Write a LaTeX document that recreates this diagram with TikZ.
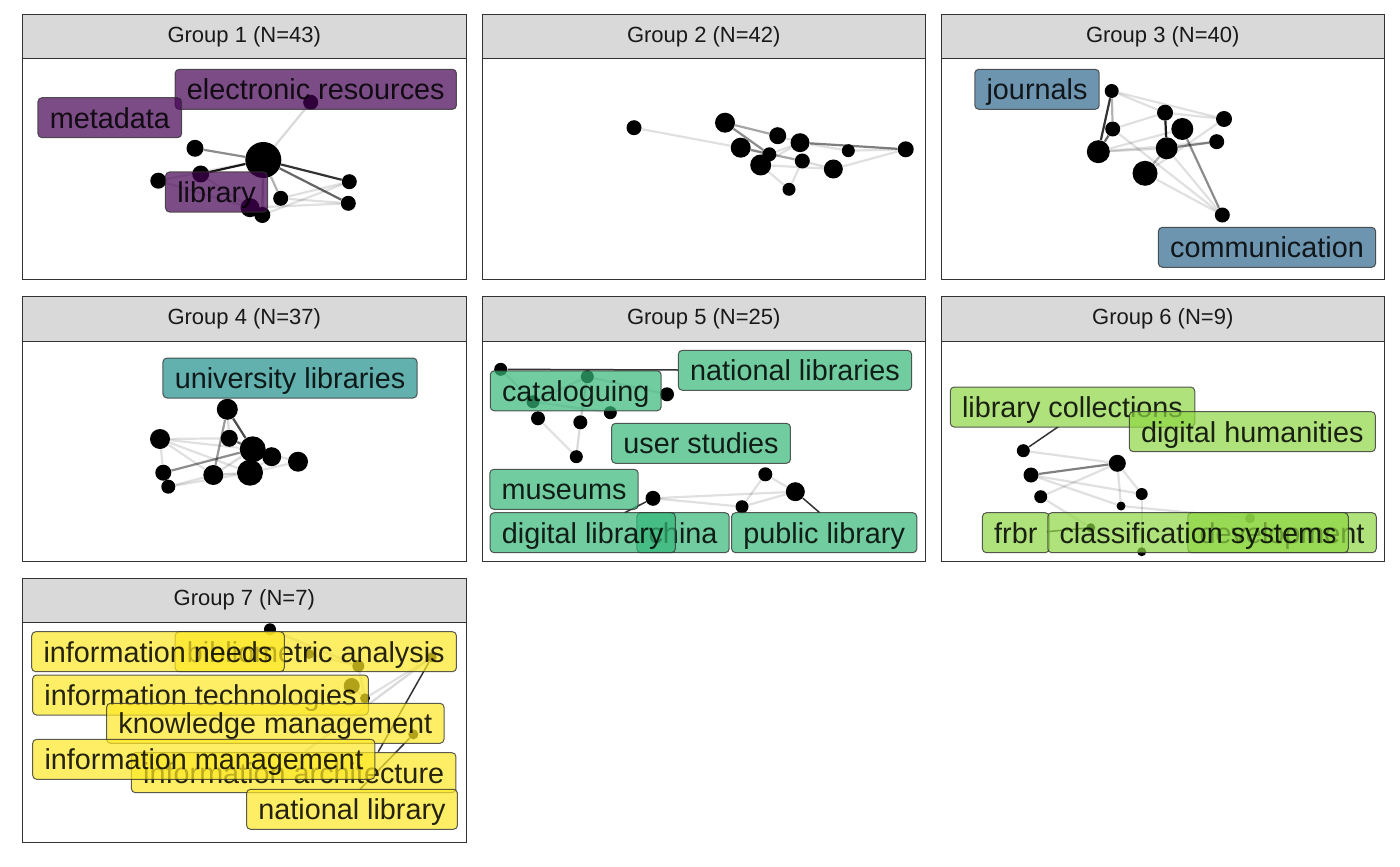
\documentclass[tikz,border=0pt]{standalone}
\usepackage{fontspec}
\setmainfont{Liberation Sans}
\definecolor{gone}{HTML}{440154}
\definecolor{gthree}{HTML}{31688E}
\definecolor{gfour}{HTML}{21908C}
\definecolor{gfive}{HTML}{35B779}
\definecolor{gsix}{HTML}{8FD744}
\definecolor{gseven}{HTML}{FDE725}
\definecolor{stripgray}{HTML}{D9D9D9}
\definecolor{framegray}{HTML}{333333}
\newcommand{\labfont}{\fontsize{14.4pt}{17pt}\selectfont}
\newcommand{\stripfont}{\fontsize{11pt}{13pt}\selectfont}
\newcommand{\facet}[4]{%
  \draw[frame,fill=stripgray] (#1,#2) rectangle ++(443.5,44.5);
  \node[font=\stripfont,text=black!90] (#3) at (#1+221.75,#2+22.25) {#4};
  \draw[frame,fill=white] (#1,#2+44.5) rectangle ++(443.5,220);
}

\begin{document}
\begin{tikzpicture}[
    x=0.5pt,y=-0.5pt,
    frame/.style={draw=framegray,line width=0.5pt},
    kw/.style={circle,fill=black,inner sep=0pt,minimum size=#1},
    lnk/.style={line width=1.1pt,draw=black,draw opacity=#1},
    seg/.style={line width=0.75pt,draw=black!80},
    lab/.style={rounded corners=2pt,draw=black!80,line width=0.5pt,fill=#1,
      fill opacity=0.7,draw opacity=0.8,text opacity=0.85,text=black,font=\labfont,
      inner xsep=5.9pt,inner ysep=0pt,minimum height=20pt,text height=13.6pt,text depth=3pt}
  ]
  \useasboundingbox (0,0) rectangle (1400,866);

  \facet{22.5}{14.5}{s1}{Group 1 (N=43)}
  \facet{482}{14.5}{s2}{Group 2 (N=42)}
  \facet{941}{14.5}{s3}{Group 3 (N=40)}
  \facet{22.5}{296.5}{s4}{Group 4 (N=37)}
  \facet{482}{296.5}{s5}{Group 5 (N=25)}
  \facet{941}{296.5}{s6}{Group 6 (N=9)}
  \facet{22.5}{578}{s7}{Group 7 (N=7)}

  % group 1
  \node[kw=18pt] (g1c) at (263.3,160) {};
  \node[kw=7.5pt] (g1a) at (310.7,102.3) {};
  \node[kw=8.5pt] (g1b) at (195,148.3) {};
  \node[kw=8.5pt] (g1d) at (200.7,174) {};
  \node[kw=8pt] (g1e) at (158.3,180.7) {};
  \node[kw=9.5pt] (g1f) at (250,207.7) {};
  \node[kw=8pt] (g1g) at (262.3,215) {};
  \node[kw=7.5pt] (g1h) at (280.7,198.3) {};
  \node[kw=7.5pt] (g1i) at (349.3,181.7) {};
  \node[kw=7.5pt] (g1j) at (348.3,203.3) {};
  \draw[lnk=.15] (g1c) -- (g1a);
  \draw[lnk=.45] (g1c) -- (g1b);
  \draw[lnk=.9] (g1c) -- (g1d);
  \draw[lnk=.8] (g1c) -- (g1i);
  \draw[lnk=.6] (g1c) -- (g1j);
  \draw[lnk=.3] (g1c) -- (g1h);
  \draw[lnk=.25] (g1c) -- (g1g);
  \draw[lnk=.12] (g1e) -- (g1c);
  \draw[lnk=.12] (g1e) -- (g1f);
  \draw[lnk=.12] (g1d) -- (g1f);
  \draw[lnk=.12] (g1h) -- (g1i);
  \draw[lnk=.12] (g1g) -- (g1i);
  \draw[lnk=.12] (g1f) -- (g1j);
  \draw[lnk=.12] (g1h) -- (g1j);
  \node[lab=gone] (eres) at (315.8,89.3) {electronic resources};
  \node[lab=gone] (meta) at (109.8,117.7) {metadata};
  \node[lab=gone] (lib) at (216.5,192) {library};

  % group 2
  \node[kw=7.5pt] (g2a) at (634,127.7) {};
  \node[kw=10pt] (g2b) at (725,122.7) {};
  \node[kw=8.5pt] (g2c) at (777.7,135.7) {};
  \node[kw=9.5pt] (g2d) at (800,142.7) {};
  \node[kw=6.5pt] (g2e) at (848.3,150.7) {};
  \node[kw=8pt] (g2f) at (905.7,149.3) {};
  \node[kw=10pt] (g2g) at (740.7,147.7) {};
  \node[kw=7pt] (g2h) at (769.3,154.3) {};
  \node[kw=10.5pt] (g2i) at (760.7,165) {};
  \node[kw=7.5pt] (g2j) at (802.3,161) {};
  \node[kw=9.5pt] (g2k) at (833.3,169) {};
  \node[kw=6.5pt] (g2l) at (789,189.3) {};
  \draw[lnk=.12] (g2a) -- (g2g);
  \draw[lnk=.35] (g2b) -- (g2c);
  \draw[lnk=.45] (g2b) -- (g2h);
  \draw[lnk=.5] (g2d) -- (g2f);
  \draw[lnk=.15] (g2c) -- (g2d);
  \draw[lnk=.35] (g2g) -- (g2j);
  \draw[lnk=.12] (g2i) -- (g2k);
  \draw[lnk=.15] (g2j) -- (g2k);
  \draw[lnk=.12] (g2k) -- (g2f);
  \draw[lnk=.12] (g2e) -- (g2f);
  \draw[lnk=.12] (g2d) -- (g2e);
  \draw[lnk=.12] (g2i) -- (g2l);
  \draw[lnk=.12] (g2j) -- (g2l);
  \draw[lnk=.12] (g2h) -- (g2d);
  \draw[lnk=.12] (g2i) -- (g2d);
  \draw[lnk=.2] (g2g) -- (g2h);
  \draw[lnk=.3] (g2h) -- (g2i);

  % group 3
  \node[kw=7pt] (g3a) at (1111.7,91) {};
  \node[kw=8pt] (g3b) at (1165,112.7) {};
  \node[kw=8pt] (g3c) at (1224,119) {};
  \node[kw=7.5pt] (g3d) at (1112.7,129) {};
  \node[kw=11pt] (g3e) at (1182.3,129) {};
  \node[kw=11.5pt] (g3f) at (1098.3,151.7) {};
  \node[kw=11pt] (g3g) at (1166.7,148.3) {};
  \node[kw=7.5pt] (g3h) at (1216.7,141.7) {};
  \node[kw=12.5pt] (g3i) at (1145,173.3) {};
  \node[kw=7.5pt] (g3j) at (1222.3,215) {};
  \draw[lnk=.8] (g3a) -- (g3f);
  \draw[lnk=.6] (g3d) -- (g3f);
  \draw[lnk=.3] (g3a) -- (g3d);
  \draw[lnk=.9] (g3b) -- (g3g);
  \draw[lnk=.12] (g3a) -- (g3b);
  \draw[lnk=.12] (g3a) -- (g3c);
  \draw[lnk=.12] (g3b) -- (g3c);
  \draw[lnk=.12] (g3d) -- (g3b);
  \draw[lnk=.12] (g3d) -- (g3j);
  \draw[lnk=.15] (g3f) -- (g3g);
  \draw[lnk=.12] (g3f) -- (g3h);
  \draw[lnk=.45] (g3g) -- (g3h);
  \draw[lnk=.45] (g3e) -- (g3j);
  \draw[lnk=.3] (g3i) -- (g3g);
  \draw[lnk=.12] (g3i) -- (g3j);
  \draw[lnk=.12] (g3i) -- (g3c);
  \draw[lnk=.12] (g3f) -- (g3e);
  \draw[lnk=.12] (g3g) -- (g3j);
  \node[lab=gthree] (jour) at (1037,89.3) {journals};
  \node[lab=gthree] (comm) at (1267,247.3) {communication};

  % group 4
  \node[kw=10.5pt] (g4a) at (227.3,409.3) {};
  \node[kw=10pt] (g4b) at (160,439) {};
  \node[kw=8.5pt] (g4c) at (229.3,438.3) {};
  \node[kw=13pt] (g4d) at (252.7,449.3) {};
  \node[kw=9.5pt] (g4e) at (271.7,456.7) {};
  \node[kw=10pt] (g4f) at (298,461.7) {};
  \node[kw=8pt] (g4g) at (163.3,472.7) {};
  \node[kw=7pt] (g4h) at (168.3,486.7) {};
  \node[kw=10pt] (g4i) at (213.3,475) {};
  \node[kw=13pt] (g4j) at (250,472.7) {};
  \draw[lnk=.7] (g4a) -- (g4d);
  \draw[lnk=.4] (g4a) -- (g4i);
  \draw[lnk=.15] (g4a) -- (g4c);
  \draw[lnk=.12] (g4b) -- (g4c);
  \draw[lnk=.12] (g4b) -- (g4d);
  \draw[lnk=.12] (g4b) -- (g4g);
  \draw[lnk=.12] (g4b) -- (g4i);
  \draw[lnk=.12] (g4b) -- (g4j);
  \draw[lnk=.45] (g4g) -- (g4d);
  \draw[lnk=.12] (g4h) -- (g4i);
  \draw[lnk=.12] (g4h) -- (g4j);
  \draw[lnk=.6] (g4c) -- (g4d);
  \draw[lnk=.12] (g4e) -- (g4j);
  \draw[lnk=.12] (g4f) -- (g4j);
  \draw[lnk=.12] (g4f) -- (g4d);
  \draw[lnk=.2] (g4i) -- (g4j);
  \draw[lnk=.15] (g4i) -- (g4d);
  \node[lab=gfour] (unilib) at (290,378) {university libraries};

  % group 5
  \node[kw=6.5pt] (g5a) at (500.7,369.3) {};
  \node[kw=6.5pt] (g5b) at (587.3,376.7) {};
  \node[kw=7pt] (g5c) at (667,394.3) {};
  \node[kw=6.5pt] (g5d) at (533,401.7) {};
  \node[kw=6.5pt] (g5e) at (610.3,412.7) {};
  \node[kw=7pt] (g5f) at (538,418.3) {};
  \node[kw=7pt] (g5g) at (580.3,422.3) {};
  \node[kw=6.5pt] (g5h) at (576.3,456.7) {};
  \node[kw=7pt] (g5i) at (765.3,474.3) {};
  \node[kw=9.5pt] (g5j) at (795.3,491.7) {};
  \node[kw=7.5pt] (g5k) at (653,498.3) {};
  \node[kw=6.5pt] (g5l) at (742,506.7) {};
  \draw[lnk=.12] (g5a) -- (g5d);
  \draw[lnk=.12] (g5d) -- (g5b);
  \draw[lnk=.2] (g5b) -- (g5g);
  \draw[lnk=.12] (g5d) -- (g5e);
  \draw[lnk=.12] (g5b) -- (g5c);
  \draw[lnk=.12] (g5f) -- (g5h);
  \draw[lnk=.15] (g5g) -- (g5h);
  \draw[lnk=.12] (g5k) -- (g5j);
  \draw[lnk=.12] (g5k) -- (g5l);
  \draw[lnk=.12] (g5l) -- (g5i);
  \draw[lnk=.12] (g5i) -- (g5j);
  \draw[lnk=.12] (g5l) -- (g5j);
  \coordinate (natlibend) at (678,370);
  \coordinate (diglibend) at (624.7,512.7);
  \coordinate (publibend) at (819.7,512.7);
  \draw[seg] (g5a) -- (natlibend);
  \draw[seg] (g5k) -- (diglibend);
  \draw[seg] (g5j) -- (publibend);
  \node[lab=gfive] (natlib) at (795,370.3) {national libraries};
  \node[lab=gfive] (catal) at (575.7,390.8) {cataloguing};
  \node[lab=gfive] (users) at (701,443.3) {user studies};
  \node[lab=gfive] (museum) at (564,489.3) {museums};
  \node[lab=gfive] (china) at (683,532.7) {china};
  \node[lab=gfive] (diglib) at (582.7,532.7) {digital library};
  \node[lab=gfive] (publib) at (824.2,532.7) {public library};

  % group 6
  \node[kw=6.5pt] (g6a) at (1023.3,450.7) {};
  \node[kw=8.5pt] (g6b) at (1117.3,463.3) {};
  \node[kw=7.5pt] (g6c) at (1031,475) {};
  \node[kw=6.5pt] (g6d) at (1040.7,496.7) {};
  \node[kw=6pt] (g6e) at (1141.7,494) {};
  \node[kw=4.5pt] (g6f) at (1121,506) {};
  \node[kw=4.5pt] (g6g) at (1090.7,527.7) {};
  \node[kw=4.5pt] (g6h) at (1141.7,551.7) {};
  \node[kw=5pt] (g6i) at (1250,518.3) {};
  \draw[lnk=.12] (g6a) -- (g6b);
  \draw[lnk=.5] (g6c) -- (g6b);
  \draw[lnk=.12] (g6d) -- (g6b);
  \draw[lnk=.12] (g6c) -- (g6e);
  \draw[lnk=.12] (g6c) -- (g6f);
  \draw[lnk=.12] (g6b) -- (g6f);
  \draw[lnk=.12] (g6b) -- (g6e);
  \draw[lnk=.12] (g6d) -- (g6g);
  \draw[lnk=.12] (g6e) -- (g6h);
  \draw[lnk=.12] (g6f) -- (g6i);
  \coordinate (libcolend) at (1058.3,426.7);
  \coordinate (frbrend) at (1046.7,531.7);
  \draw[seg] (g6a) -- (libcolend);
  \draw[seg] (g6g) -- (frbrend);
  \node[lab=gsix] (libcol) at (1072.5,407) {library collections};
  \node[lab=gsix] (dighum) at (1252.3,431.7) {digital humanities};
  \node[lab=gsix] (frbr) at (1015.8,532.7) {frbr};
  \node[lab=gsix] (devel) at (1282,532.7) {development};
  \node[lab=gsix] (classys) at (1198,532.7) {classification systems};

  % group 7
  \node[kw=6pt] (g7a) at (270,629.3) {};
  \node[kw=5pt] (g7b) at (309,654) {};
  \node[kw=6pt] (g7c) at (358.3,666) {};
  \node[kw=8pt] (g7d) at (351.7,686) {};
  \node[kw=5pt] (g7e) at (365,698.3) {};
  \node[kw=5pt] (g7f) at (431.7,657.3) {};
  \node[kw=5pt] (g7g) at (413.3,734.3) {};
  \draw[lnk=.15] (g7a) -- (g7c);
  \draw[lnk=.12] (g7b) -- (g7c);
  \draw[lnk=.12] (g7c) -- (g7e);
  \draw[lnk=.15] (g7d) -- (g7e);
  \draw[lnk=.12] (g7e) -- (g7f);
  \coordinate (archend) at (378.3,751.7);
  \coordinate (archlow) at (305,751.7);
  \coordinate (natlend) at (360,789.3);
  \draw[lnk=.15] (g7f) -- (archlow);
  \draw[seg] (g7f) -- (archend);
  \draw[seg] (g7g) -- (natlend);
  \node[lab=gseven] (biblio) at (315.8,651.7) {bibliometric analysis};
  \node[lab=gseven] (infneed) at (158,651.7) {information needs};
  \node[lab=gseven] (inftech) at (200.5,695) {information technologies};
  \node[lab=gseven] (knowm) at (275.3,723.3) {knowledge management};
  \node[lab=gseven] (infarch) at (293.7,772.7) {information architecture};
  \node[lab=gseven] (infman) at (203.8,759.3) {information management};
  \node[lab=gseven] (natl) at (352,809.3) {national library};
\end{tikzpicture}
\end{document}
